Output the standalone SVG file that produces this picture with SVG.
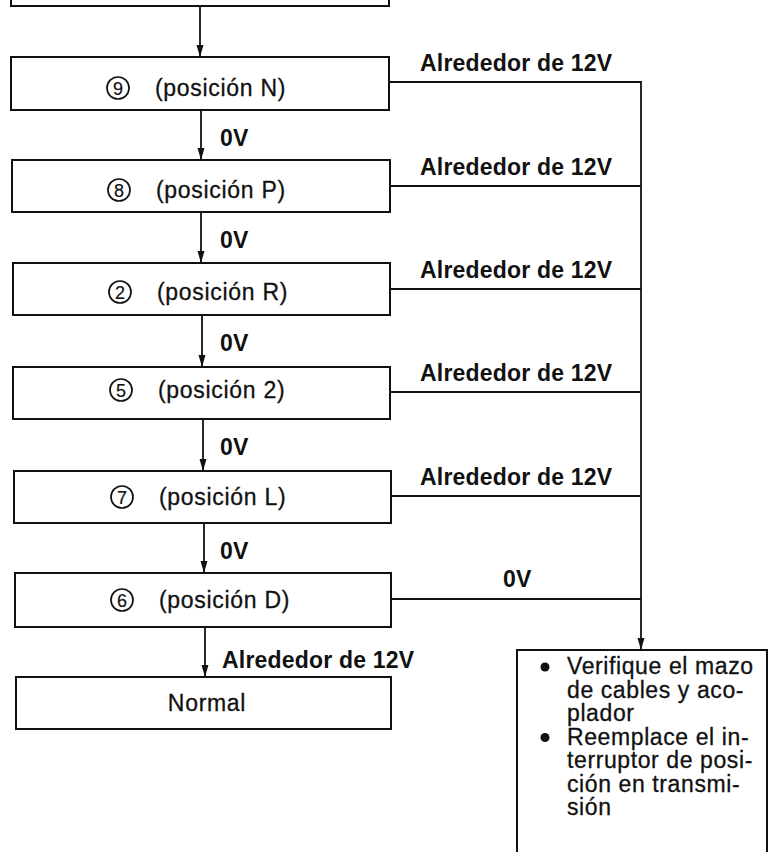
<svg xmlns="http://www.w3.org/2000/svg" width="769" height="852" viewBox="0 0 769 852">
  <style>
    .box { fill: #fff; stroke: #111; stroke-width: 2; }
    .wire { fill: none; stroke: #111; stroke-width: 1.8; }
    .lbl { font-family: "Liberation Sans", Arial, sans-serif; font-size: 23px; font-weight: bold; fill: #111; letter-spacing: 0.2px; }
    .txt { font-family: "Liberation Sans", Arial, sans-serif; font-size: 23px; fill: #111; stroke: #111; stroke-width: 0.3; letter-spacing: 0.7px; }
    .num { font-family: "Liberation Sans", Arial, sans-serif; font-size: 18px; fill: #111; stroke: #111; stroke-width: 0.2; text-anchor: middle; }
    .ring { fill: none; stroke: #111; stroke-width: 1.7; }
    .note { font-family: "Liberation Sans", Arial, sans-serif; font-size: 23px; fill: #111; stroke: #111; stroke-width: 0.3; letter-spacing: 0.6px; }
  </style>
  <defs>
    <marker id="arr" viewBox="0 0 12 8" refX="12" refY="4" markerWidth="12" markerHeight="8" markerUnits="userSpaceOnUse" orient="auto">
      <path d="M0,0.5 L12,4 L0,7.5 z" fill="#111"/>
    </marker>
  </defs>

  <rect width="769" height="852" fill="#fff"/>

  <!-- connectors -->
  <g id="connectors">
    <line class="wire" x1="200" y1="6" x2="200" y2="57" marker-end="url(#arr)"/>
    <line class="wire" x1="201" y1="110" x2="201" y2="160" marker-end="url(#arr)"/>
    <line class="wire" x1="201" y1="212" x2="201" y2="263" marker-end="url(#arr)"/>
    <line class="wire" x1="202" y1="315" x2="202" y2="367" marker-end="url(#arr)"/>
    <line class="wire" x1="203" y1="419" x2="203" y2="471" marker-end="url(#arr)"/>
    <line class="wire" x1="204" y1="523" x2="204" y2="573" marker-end="url(#arr)"/>
    <line class="wire" x1="205" y1="627" x2="205" y2="677" marker-end="url(#arr)"/>

    <line class="wire" x1="389" y1="82" x2="641" y2="82"/>
    <line class="wire" x1="390" y1="186" x2="641" y2="186"/>
    <line class="wire" x1="390" y1="289" x2="641" y2="289"/>
    <line class="wire" x1="390" y1="392" x2="641" y2="392"/>
    <line class="wire" x1="391" y1="496" x2="641" y2="496"/>
    <line class="wire" x1="391" y1="599" x2="641" y2="599"/>
    <line class="wire" x1="641" y1="81" x2="641" y2="650" marker-end="url(#arr)"/>

    <text class="lbl" x="220" y="146">0V</text>
    <text class="lbl" x="220" y="248">0V</text>
    <text class="lbl" x="220" y="351">0V</text>
    <text class="lbl" x="220" y="455">0V</text>
    <text class="lbl" x="220" y="559">0V</text>
    <text class="lbl" x="222" y="668">Alrededor de 12V</text>

    <text class="lbl" x="420" y="71">Alrededor de 12V</text>
    <text class="lbl" x="420" y="175">Alrededor de 12V</text>
    <text class="lbl" x="420" y="278">Alrededor de 12V</text>
    <text class="lbl" x="420" y="381">Alrededor de 12V</text>
    <text class="lbl" x="420" y="485">Alrededor de 12V</text>
    <text class="lbl" x="503" y="587">0V</text>
  </g>

  <!-- previous step (cut off at the top edge) -->
  <g id="step-prev">
    <rect class="box" x="11" y="-20" width="378" height="26"/>
  </g>

  <g id="step-9">
    <rect class="box" x="11" y="57" width="378" height="53"/>
    <circle class="ring" cx="118" cy="88" r="11"/>
    <text class="num" x="118" y="94.5">9</text>
    <text class="txt" x="155" y="96">(posición N)</text>
  </g>

  <g id="step-8">
    <rect class="box" x="12" y="160" width="378" height="52"/>
    <circle class="ring" cx="119" cy="190" r="11"/>
    <text class="num" x="119" y="196.5">8</text>
    <text class="txt" x="156" y="198">(posición P)</text>
  </g>

  <g id="step-2">
    <rect class="box" x="13" y="263" width="377" height="52"/>
    <circle class="ring" cx="120" cy="292" r="11"/>
    <text class="num" x="120" y="298.5">2</text>
    <text class="txt" x="157" y="300">(posición R)</text>
  </g>

  <g id="step-5">
    <rect class="box" x="13" y="367" width="377" height="52"/>
    <circle class="ring" cx="121" cy="390" r="11"/>
    <text class="num" x="121" y="396.5">5</text>
    <text class="txt" x="158" y="398">(posición 2)</text>
  </g>

  <g id="step-7">
    <rect class="box" x="14" y="471" width="377" height="52"/>
    <circle class="ring" cx="122" cy="497" r="11"/>
    <text class="num" x="122" y="503.5">7</text>
    <text class="txt" x="159" y="505">(posición L)</text>
  </g>

  <g id="step-6">
    <rect class="box" x="15" y="573" width="376" height="54"/>
    <circle class="ring" cx="122" cy="600" r="11"/>
    <text class="num" x="122" y="606.5">6</text>
    <text class="txt" x="159" y="608">(posición D)</text>
  </g>

  <g id="normal">
    <rect class="box" x="16" y="677" width="375" height="52"/>
    <text class="txt" x="207" y="711" text-anchor="middle">Normal</text>
  </g>

  <g id="repair">
    <rect class="box" x="517" y="650" width="250" height="230"/>
    <circle cx="545" cy="667" r="4.5" fill="#111"/>
    <text class="note" x="567" y="674">Verifique el mazo</text>
    <text class="note" x="567" y="697.5">de cables y aco-</text>
    <text class="note" x="567" y="721">plador</text>
    <circle cx="545" cy="737.5" r="4.5" fill="#111"/>
    <text class="note" x="567" y="744.5">Reemplace el in-</text>
    <text class="note" x="567" y="768">terruptor de posi-</text>
    <text class="note" x="567" y="791.5">ción en transmi-</text>
    <text class="note" x="567" y="815">sión</text>
  </g>
</svg>
